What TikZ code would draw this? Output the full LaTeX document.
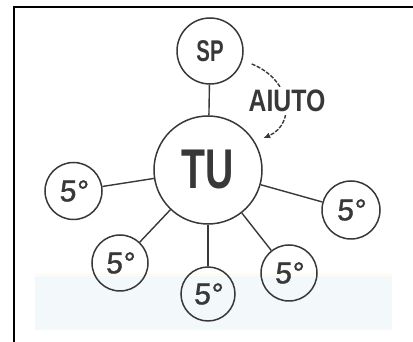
\documentclass[tikz,border=0pt]{standalone}
\usepackage{fontspec}
\usetikzlibrary{arrows.meta}
\setmainfont{Liberation Sans}
\newfontfamily\condfont[FakeStretch=0.7]{Liberation Sans}
\newfontfamily\spfont[FakeStretch=0.68]{Liberation Sans}
\newfontfamily\autofont[FakeStretch=0.8]{Liberation Sans}
\newfontfamily\digfont[FakeSlant=0.08,FakeBold=1.2]{Liberation Sans}
\definecolor{ink}{HTML}{383838}
\definecolor{scanband}{RGB}{243,249,251}
\definecolor{scanline}{RGB}{252,249,236}
\tikzset{
  bubble/.style={circle, draw=ink, line width=1.5pt, inner sep=0pt, text=ink},
  fifth/.style={bubble, minimum size=56pt, font=\digfont\fontsize{30}{30}\selectfont},
  link/.style={draw=ink, line width=1.4pt},
  frameline/.style={draw=black, line width=2pt}
}
\begin{document}
\begin{tikzpicture}[x=1pt,y=1pt]
\useasboundingbox (0,0) rectangle (413,342);
% faint scan band
\fill[scanband] (35,12) rectangle (392,66);
\draw[scanline, line width=1pt] (35,67) -- (392,67);
% frame
\draw[frameline] (14,0) -- (14,334.5) -- (413,334.5);
% nodes
\node[bubble, minimum size=66pt, font=\spfont\bfseries\fontsize{30}{30}\selectfont] (sp) at (210,291) {SP};
\node[bubble, minimum size=108pt, font=\condfont\bfseries\fontsize{56}{56}\selectfont] (tu) at (208,172) {TU};
\node[fifth, minimum size=57pt] (f1) at (73.5,151) {5°};
\node[fifth, minimum size=58pt] (f2) at (351,132) {5°};
\node[fifth] (f3) at (120,79) {5°};
\node[fifth, minimum size=54pt] (f4) at (208,48) {5°};
\node[fifth] (f5) at (289,69) {5°};
% connectors
\draw[link] (tu) -- (sp);
\draw[link] (tu) -- (f1);
\draw[link] (tu) -- (f2);
\draw[link] (tu) -- (f3);
\draw[link] (tu) -- (f4);
\draw[link] (tu) -- (f5);
% help arrow
\draw[link, dash pattern=on 4pt off 1.5pt, -{Latex[length=7pt,width=6pt]}, shorten <=10pt, shorten >=9pt]
  (sp.-16) .. controls (292,262) and (296,218) .. (tu.31);
\node[fill=white, inner xsep=1pt, inner ysep=3.5pt, text=ink, font=\autofont\bfseries\fontsize{31}{31}\selectfont] (help) at (287,241) {AIUTO};
\end{tikzpicture}
\end{document}
